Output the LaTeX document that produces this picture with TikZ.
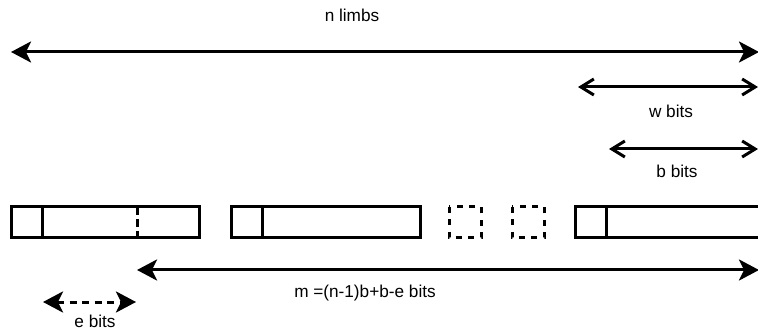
\documentclass[tikz,border=0pt]{standalone}
\usepackage{fontspec}
\setmainfont{Liberation Sans}
\usetikzlibrary{arrows.meta}
\begin{document}
\begin{tikzpicture}[x=1pt,y=-1pt,
  line width=3pt,
  lbl/.style={font=\fontsize{17.2}{20}\selectfont, inner sep=0pt, anchor=base},
  pt/.style={inner sep=0pt, outer sep=0pt, minimum size=0pt},
  fillarr/.style={{Stealth[length=20pt,width=21pt,inset=5pt]}-{Stealth[length=20pt,width=21pt,inset=5pt]}},
  openarr/.style={{Straight Barb[length=13pt,width=16pt]}-{Straight Barb[length=13pt,width=16pt]}},
  limb/.style={draw, line width=3pt},
  ghost/.style={draw, line width=3pt, dash pattern=on 6pt off 6.5pt}
]
\useasboundingbox (0,0) rectangle (758,331);
% labels
\node[lbl] (nl) at (352,22) {n limbs};
\node[lbl] (wl) at (671,118) {w bits};
\node[lbl] (bl) at (677,178) {b bits};
\node[lbl] (ml) at (365,298) {m =(n-1)b+b-e bits};
\node[lbl] (el) at (95,327) {e bits};
% arrow endpoints
\node[pt] (n1) at (11,52) {};
\node[pt] (n2) at (759,52) {};
\node[pt] (w1) at (578,87) {};
\node[pt] (w2) at (758,87) {};
\node[pt] (b1) at (609,149) {};
\node[pt] (b2) at (758,149) {};
\node[pt] (m1) at (137,270) {};
\node[pt] (m2) at (759,270) {};
\node[pt] (e1) at (43,302) {};
\node[pt] (e2) at (136,302) {};
% arrows
\draw[fillarr] (n1) -- (n2);
\draw[openarr] (w1) -- (w2);
\draw[openarr] (b1) -- (b2);
\draw[fillarr] (m1) -- (m2);
\draw[fillarr, dash pattern=on 7pt off 5.5pt] (e1) -- (e2);
% limbs
\draw[limb] (11,207) rectangle (199,238);
\draw[limb] (42,207) -- (42,238);
\draw[line width=3pt, dash pattern=on 8pt off 4pt] (137,207) -- (137,238);
\draw[limb] (231,207) rectangle (420,238);
\draw[limb] (262,207) -- (262,238);
\draw[ghost] (449,207) rectangle (481,238);
\draw[ghost] (512,207) rectangle (544,238);
\draw[limb] (575,207) rectangle (770,238);
\draw[limb] (606,207) -- (606,238);
\end{tikzpicture}
\end{document}
